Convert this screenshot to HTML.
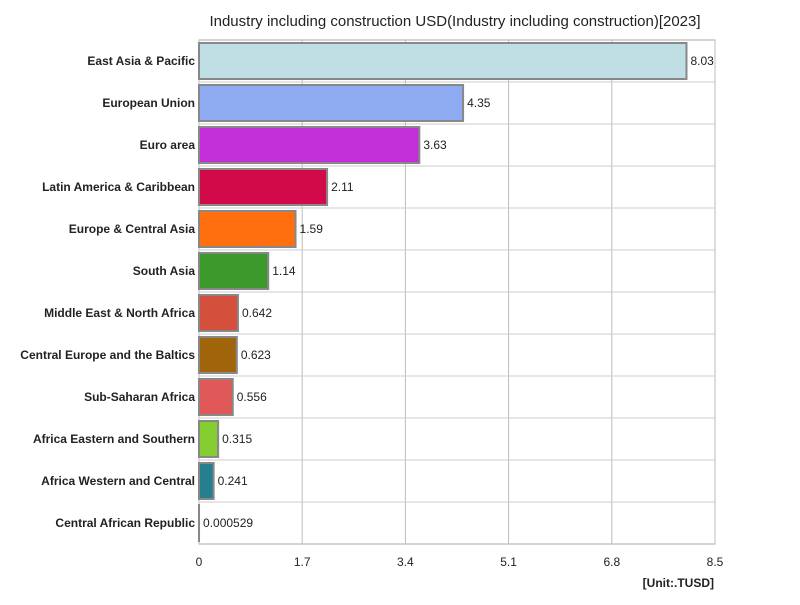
<!DOCTYPE html>
<html><head><meta charset="utf-8"><style>
body{margin:0;background:#fff;font-family:"Liberation Sans",sans-serif}
</style></head><body>
<svg id="c" width="800" height="600" xmlns="http://www.w3.org/2000/svg">
<text x="455" y="26" text-anchor="middle" font-size="15" fill="#222">Industry including construction USD(Industry including construction)[2023]</text>
<text x="714" y="587" text-anchor="end" font-size="12" font-weight="bold" fill="#222">[Unit:.TUSD]</text>
</svg>
<script>
const categories=["East Asia & Pacific","European Union","Euro area","Latin America & Caribbean","Europe & Central Asia","South Asia","Middle East & North Africa","Central Europe and the Baltics","Sub-Saharan Africa","Africa Eastern and Southern","Africa Western and Central","Central African Republic"];
const values=[8.03,4.35,3.63,2.11,1.59,1.14,0.642,0.623,0.556,0.315,0.241,0.000529];
const valueLabels=["8.03","4.35","3.63","2.11","1.59","1.14","0.642","0.623","0.556","0.315","0.241","0.000529"];
const tickValues=[0,1.7,3.4,5.1,6.8,8.5];
const tickLabels=["0","1.7","3.4","5.1","6.8","8.5"];
const colors=["#c0dfe4","#8eaaf0","#c22fd8","#d20a4a","#ff6f0f","#3c9a2c","#d44f3c","#a0640a","#e05858","#84cc30","#257f8f","#888"];
const svg=document.getElementById('c');const NS="http://www.w3.org/2000/svg";
const X0=199,X1=715,Y0=40,Y1=544,XMAX=8.5;
const x=v=>X0+(v/XMAX)*(X1-X0);
const band=(Y1-Y0)/categories.length;
const y=i=>Y0+i*band;
function mk(t,a){const e=document.createElementNS(NS,t);for(const k in a)e.setAttribute(k,a[k]);svg.appendChild(e);return e;}
const bg=mk('rect',{x:X0,y:Y0,width:X1-X0,height:Y1-Y0,fill:'#fff',stroke:'#aaa'});


tickValues.forEach((t,i)=>{
 const l=mk('line',{x1:x(t),x2:x(t),y1:Y0,y2:Y1,stroke:'#bbb'});
 
 
 const tx=mk('text',{x:x(t),y:566,'text-anchor':'middle','font-size':12,fill:'#222'});tx.textContent=tickLabels[i];
 
 
});
categories.forEach((c,i)=>{
 if(i>0){const l=mk('line',{x1:X0,x2:X1,y1:y(i),y2:y(i),stroke:'#ccc'});
 
 }
 const b=mk('rect',{x:X0,y:y(i)+3,width:Math.max(0,x(values[i])-X0),height:band-6,fill:colors[i],stroke:'#888','stroke-width':2});
 
 
 const lb=mk('text',{x:195,y:y(i)+band/2+4,'text-anchor':'end','font-size':12,'font-weight':'bold',fill:'#222'});lb.textContent=c;
 
 
 const v=mk('text',{x:x(values[i])+4,y:y(i)+band/2+4,'font-size':12,fill:'#222'});v.textContent=valueLabels[i];
 
 
});
</script>
</body></html>
